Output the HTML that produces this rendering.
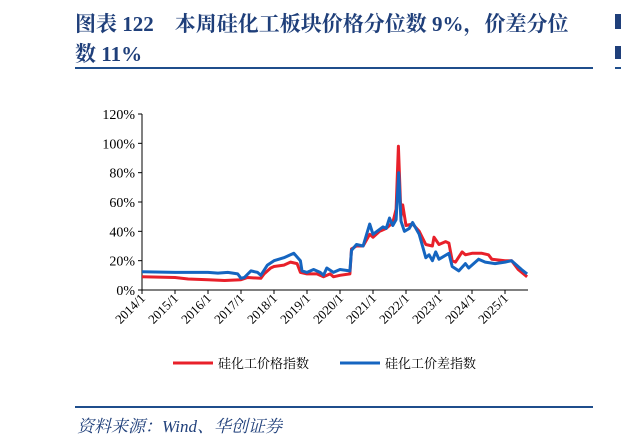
<!DOCTYPE html>
<html><head><meta charset="utf-8"><style>
body{margin:0;width:621px;height:444px;background:#fff;overflow:hidden;position:relative;font-family:"Liberation Serif","Noto Serif CJK SC",serif}
.t{position:absolute;left:75px;color:#1f3f7a;font-weight:bold;font-size:21px;white-space:nowrap}
</style></head><body>
<div class="t" style="top:8px">图表 122　本周硅化工板块价格分位数 9%，价差分位</div>
<div class="t" style="top:38px">数 11%</div>
<div style="position:absolute;left:615px;top:14px;width:6px;height:15px;background:#1f3f7a"></div>
<div style="position:absolute;left:615px;top:46px;width:6px;height:13px;background:#1f3f7a"></div>
<div style="position:absolute;left:615px;top:67px;width:6px;height:2px;background:#1f4e8c"></div>
<div style="position:absolute;left:75px;top:67px;width:518px;height:2px;background:#1f4e8c"></div>
<div style="position:absolute;left:75px;top:406px;width:518px;height:2px;background:#1f4e8c"></div>
<div style="position:absolute;left:77px;top:412px;font-size:17px;font-style:italic;color:#1f3f7a">资料来源：Wind、华创证券</div>
<svg id="c" width="621" height="444" style="position:absolute;left:0;top:0"></svg>
<script>
const years=["2014/1","2015/1","2016/1","2017/1","2018/1","2019/1","2020/1","2021/1","2022/1","2023/1","2024/1","2025/1"];
const yTicks=[0,20,40,60,80,100,120];
const priceT=[2014,2015,2015.4,2016,2016.5,2017,2017.2,2017.6,2017.7,2017.9,2018,2018.3,2018.5,2018.7,2018.8,2019,2019.3,2019.5,2019.7,2019.8,2020,2020.3,2020.35,2020.5,2020.7,2020.9,2021,2021.2,2021.4,2021.5,2021.6,2021.7,2021.77,2021.85,2021.9,2022,2022.2,2022.4,2022.6,2022.8,2022.85,2023,2023.2,2023.3,2023.4,2023.5,2023.7,2023.8,2024,2024.3,2024.5,2024.6,2025,2025.2,2025.4,2025.67];
const priceV=[9,8.5,7.5,7,6.5,7,8.5,8,11,15,16,17,19,18,12,11,11,9,11,9,10,11,28,30,30,38,36,40,42,44,46,55,98,50,58,44,45,40,31,30,36,31,33,32,20,19,26,24,25,25,24,21,20,20,14,9];
const spreadT=[2014,2015,2016,2016.3,2016.6,2016.9,2017,2017.1,2017.3,2017.5,2017.6,2017.8,2018,2018.3,2018.6,2018.8,2018.85,2019,2019.2,2019.4,2019.5,2019.6,2019.8,2020,2020.3,2020.35,2020.5,2020.7,2020.9,2021,2021.3,2021.4,2021.5,2021.6,2021.7,2021.78,2021.85,2021.95,2022.1,2022.2,2022.4,2022.5,2022.6,2022.7,2022.8,2022.9,2023,2023.3,2023.4,2023.6,2023.8,2023.9,2024.2,2024.4,2024.7,2025,2025.2,2025.5,2025.67];
const spreadV=[12.5,12,12,11.5,12,11,8,8.5,13,12,10,17,20,22,25,20,13,12,14,12,10,15,12,14,13,27,31,30,45,38,43,42,49,44,48,80,47,40,42,46,38,30,22,24,20,26,21,25,16,13,18,15,21,19,18,19,20,14,11];
const x0=142,yrW=33,y0=290,yTop=114;
const X=t=>x0+(t-2014)*yrW, Y=v=>y0-(v/120)*(y0-yTop);
const s=document.getElementById('c'),NS="http://www.w3.org/2000/svg";
function el(tag,a,p){const e=document.createElementNS(NS,tag);for(const k in a)e.setAttribute(k,a[k]);(p||s).appendChild(e);return e;}
const ax=el('line',{x1:x0,y1:yTop,x2:x0,y2:y0,stroke:'#000','stroke-width':1});

const bx=el('line',{x1:x0,y1:y0,x2:528,y2:y0,stroke:'#000','stroke-width':1});

yTicks.forEach(v=>{const y=Y(v);el('line',{x1:x0-4,y1:y,x2:x0,y2:y,stroke:'#000'});
const t=el('text',{x:x0-7,y:y+5,'text-anchor':'end','font-size':14,'font-family':'Liberation Serif',fill:'#000'});t.textContent=v+'%';
});
years.forEach((lab,i)=>{const x=X(2014+i);el('line',{x1:x,y1:y0,x2:x,y2:y0+4,stroke:'#000'});
const t=el('text',{x:x+4,y:y0+9,'text-anchor':'end','font-size':13,'font-family':'Liberation Serif',fill:'#000',transform:`rotate(-45 ${x+4} ${y0+9})`});t.textContent=lab;
});
function line(T,V,c,n){const p=el('path',{d:T.map((t,i)=>(i?'L':'M')+X(t).toFixed(1)+','+Y(V[i]).toFixed(1)).join(''),fill:'none',stroke:c,'stroke-width':3,'stroke-linejoin':'round'});
}
line(priceT,priceV,'#e8202a','price-index-line');
line(spreadT,spreadV,'#1565c0','spread-index-line');
[[173,'#e8202a','硅化工价格指数','legend-price'],[340,'#1565c0','硅化工价差指数','legend-spread']].forEach(([x,c,l,n])=>{
const g=el('g',{});
el('line',{x1:x,y1:363,x2:x+40,y2:363,stroke:c,'stroke-width':3},g);
const t=el('text',{x:x+45,y:368,'font-size':13,'font-family':'Liberation Serif, Noto Serif CJK SC, serif',fill:'#000'},g);t.textContent=l;});
</script>
</body></html>
